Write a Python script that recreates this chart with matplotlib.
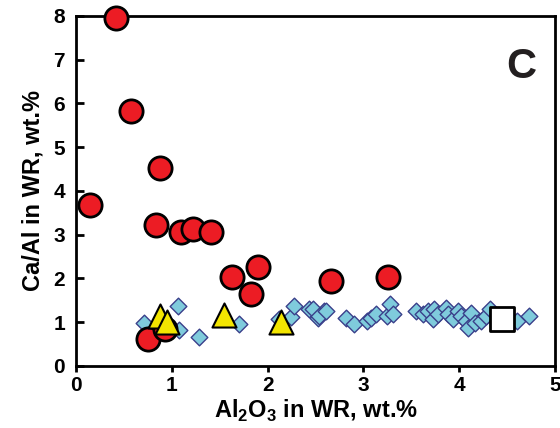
import matplotlib
matplotlib.use("Agg")
import matplotlib.pyplot as plt

plt.rcParams["font.family"] = ["Liberation Sans", "DejaVu Sans"]
plt.rcParams["font.weight"] = "bold"
plt.rcParams["mathtext.fontset"] = "custom"
plt.rcParams["mathtext.rm"] = "Liberation Sans:bold"
plt.rcParams["mathtext.bf"] = "Liberation Sans:bold"

# red circles
red_x = [0.42, 0.14, 0.57, 0.88, 0.83, 1.09, 1.22, 1.41, 1.63, 1.90, 1.83,
         2.66, 3.26, 0.75, 0.93]
red_y = [7.95, 3.67, 5.83, 4.52, 3.21, 3.07, 3.14, 3.07, 2.04, 2.27, 1.65,
         1.93, 2.04, 0.62, 0.85]

# yellow triangles
tri_x = [0.88, 0.95, 1.54, 2.14]
tri_y = [1.15, 1.00, 1.17, 1.00]

# white square
sq_x = [4.45]
sq_y = [1.08]

# blue diamonds
dia_x = [0.71, 1.06, 1.07, 1.28, 1.70, 2.12, 2.24, 2.28, 2.43, 2.53, 2.59,
         2.47, 2.54, 2.61, 2.82, 2.90, 3.04, 3.08, 3.13, 3.25, 3.28, 3.31,
         3.55, 3.62, 3.67, 3.73, 3.74, 3.78, 3.86, 3.88, 3.94, 3.99, 4.02,
         4.07, 4.09, 4.12, 4.16, 4.23, 4.28, 4.32, 4.45, 4.60, 4.73]
dia_y = [0.99, 1.37, 0.83, 0.67, 0.96, 1.07, 1.11, 1.37, 1.30, 1.10, 1.26,
         1.30, 1.15, 1.26, 1.10, 0.96, 1.03, 1.10, 1.19, 1.15, 1.42, 1.19,
         1.26, 1.19, 1.26, 1.08, 1.30, 1.19, 1.33, 1.19, 1.08, 1.26, 1.15,
         1.03, 0.87, 1.22, 0.99, 1.03, 1.15, 1.30, 1.10, 1.03, 1.15]

fig = plt.figure(figsize=(5.6, 4.28), dpi=100)
ax = fig.add_axes([0.136, 0.145, 0.855, 0.818])

ax.scatter(dia_x, dia_y, marker="D", s=72, facecolor="#7FCBDC",
           edgecolor="#3A3F8A", linewidth=1.0, zorder=2)
ax.scatter(red_x, red_y, marker="o", s=280, facecolor="#EC1C24",
           edgecolor="black", linewidth=2.0, zorder=3, clip_on=False)
ax.scatter(tri_x, tri_y, marker="^", s=300, facecolor="#F3E500",
           edgecolor="black", linewidth=1.5, zorder=4)
ax.scatter(sq_x, sq_y, marker="s", s=320, facecolor="white",
           edgecolor="black", linewidth=2.0, zorder=5)

ax.set_xlim(0, 5)
ax.set_ylim(0, 8)
ax.set_xticks([0, 1, 2, 3, 4, 5])
ax.set_yticks(range(0, 9))

for sp in ax.spines.values():
    sp.set_linewidth(2.0)

ax.tick_params(axis="y", direction="in", length=6, width=2, labelsize=15, pad=8)
ax.tick_params(axis="x", direction="out", length=4, width=2, labelsize=15, pad=3)
for lab in ax.get_xticklabels() + ax.get_yticklabels():
    lab.set_fontweight("bold")

ax.set_xlabel("Al$_{2}$O$_{3}$ in WR, wt.%", fontsize=17,
              fontweight="bold", labelpad=2)
ax.set_ylabel("Ca/Al in WR, wt.%", fontsize=17, fontweight="bold", labelpad=6)

ax.text(0.93, 0.855, "C", transform=ax.transAxes, fontsize=30,
        fontweight="bold", ha="center", va="center", color="#231F20")

fig.savefig("out.png", dpi=100)
